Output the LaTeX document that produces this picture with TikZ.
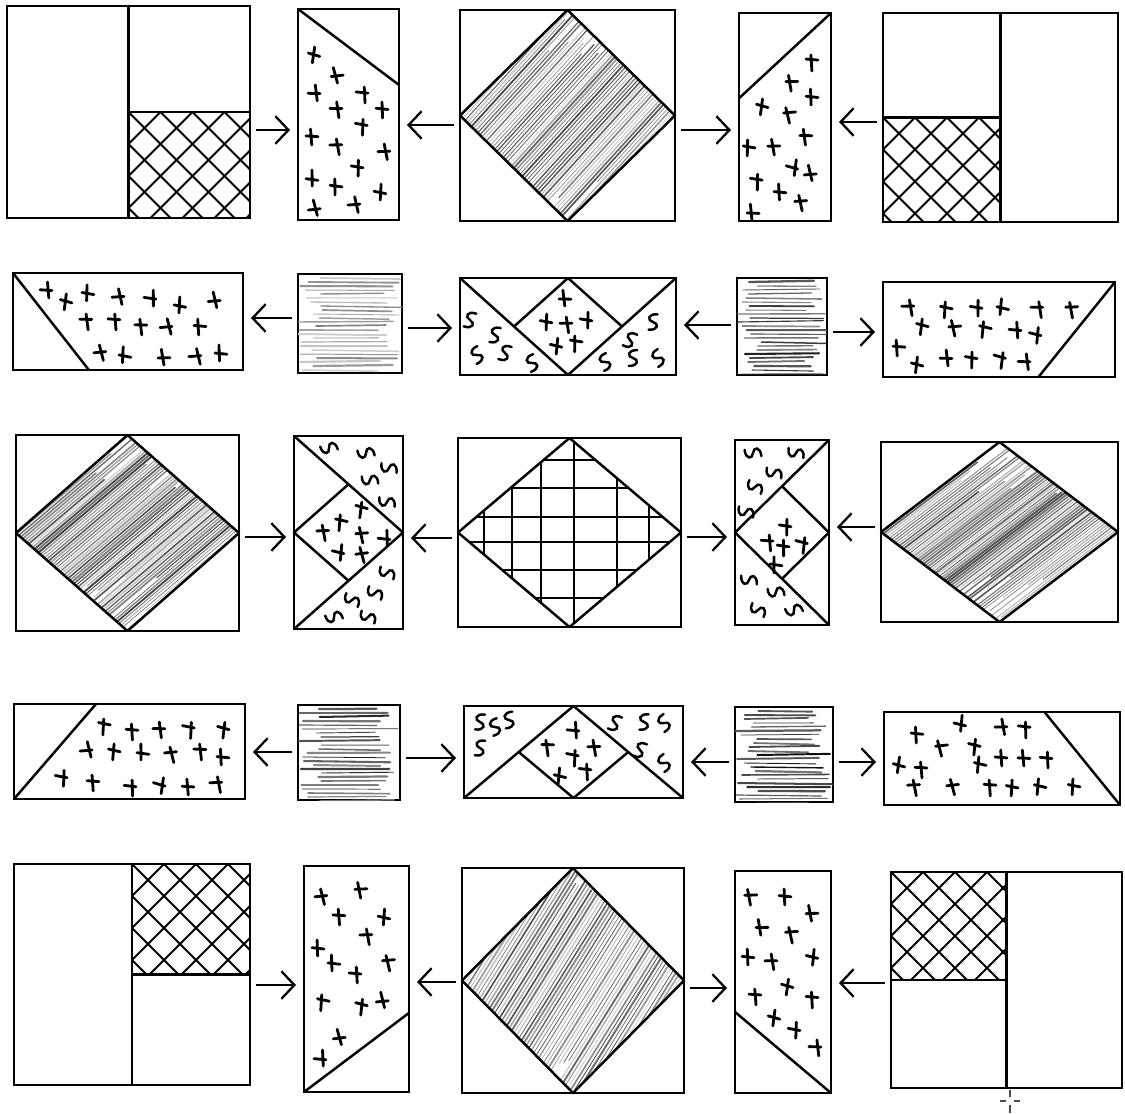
\documentclass[tikz,border=0pt]{standalone}
\usetikzlibrary{arrows.meta,calc,fit}
\newcommand\xhatch[2]{\begin{scope}\clip (#1) rectangle (#2);
 \foreach \kk in {-160,-128,...,320}{\draw[hatchline] ($(#1)+(\kk,0)$) -- ++(180,180); \draw[hatchline] ($(#1)+(\kk,0)$) -- ++(-180,180);}
\end{scope}}
\newcommand\dscrib[3]{\begin{scope}\clip (#1.north)--(#1.east)--(#1.south)--(#1.west)--cycle;
 \foreach \kk in {-250,-246,...,250}{
  \pgfmathsetmacro\gv{int(20+55*rnd)}
  \pgfmathsetmacro\wv{0.3+0.8*rnd}
  \pgfmathsetmacro\sa{50+130*rnd}
  \pgfmathsetmacro\sb{50+130*rnd}
  \draw[black!\gv, line width=\wv pt, line cap=round] ($(#1.center)+(\kk-\sa*#2,\sa*#3)$) -- ($(#1.center)+(\kk+\sb*#2,-\sb*#3)$);
 }\end{scope}}
\newcommand\hscrib[3]{\begin{scope}\clip (#1.north west) rectangle (#1.south east);
 \foreach \yy in {4,8,...,96}{
  \pgfmathsetmacro\gv{int(#2+#3*rnd)}
  \pgfmathsetmacro\wv{0.4+0.9*rnd}
  \pgfmathsetmacro\sa{25*rnd}
  \pgfmathsetmacro\sb{25*rnd}
  \draw[black!\gv, line width=\wv pt, line cap=round] ($(#1.north west)+(\sa,\yy)$) -- ($(#1.north east)+(-\sb,\yy+3*rnd-1.5)$);
 }\end{scope}}
\newcommand\crosses[1]{\foreach \x/\y in {#1}{\pgfmathsetmacro\rr{-12+24*rnd}\pgfmathsetmacro\hb{-4+5*rnd}\pgfmathsetmacro\vb{-3+6*rnd}\pic[rotate=\rr] at (\x,\y) {plus};}}
\newcommand\squigs[2]{\foreach \x/\y in {#2}{\pgfmathsetmacro\rr{#1-30+60*rnd}\pic[rotate=\rr] at (\x,\y) {squig};}}
\begin{document}
\begin{tikzpicture}[x=0.02cm,y=-0.02cm,
 blk/.style={draw, line width=1.5pt, inner sep=0pt, outer sep=0pt, rectangle},
 inl/.style={line width=1.4pt, line join=round},
 hatchline/.style={line width=1.1pt},
 crossline/.style={line width=1.6pt, line cap=round},
 squigline/.style={line width=1.4pt, line cap=round},
 arr/.style={line width=1.3pt, -{Straight Barb[length=0.26cm,width=0.55cm]}, shorten <=0.12cm, shorten >=0.16cm},
 plus/.pic={\draw[crossline] (-6,\hb) -- (6,\hb+1) (\vb,-8) -- (\vb+1,8);},
 squig/.pic={\draw[squigline] (4,-8) .. controls (-6,-8) and (-6,-1) .. (0,0) .. controls (6,1) and (6,8) .. (-4,8);}]
\pgfmathsetseed{4321}
\useasboundingbox (0,0) rectangle (1125,1113);
\fill[white] (0,0) rectangle (1125,1113);
% ---------- blocks ----------
\node[blk, fit={(7,6)(250,218)}] (A1) {};
\node[blk, fit={(298,9)(399,220)}] (A2) {};
\node[blk, fit={(460,10)(675,221)}] (A3) {};
\node[blk, fit={(739,13)(831,221)}] (A4) {};
\node[blk, fit={(883,13)(1118,222)}] (A5) {};
\node[blk, fit={(13,273)(243,370)}] (B1) {};
\node[blk, fit={(298,274)(402,373)}] (B2) {};
\node[blk, fit={(460,278)(676,375)}] (B3) {};
\node[blk, fit={(737,278)(827,375)}] (B4) {};
\node[blk, fit={(883,282)(1115,377)}] (B5) {};
\node[blk, fit={(16,435)(239,631)}] (C1) {};
\node[blk, fit={(294,436)(403,629)}] (C2) {};
\node[blk, fit={(458,438)(681,627)}] (C3) {};
\node[blk, fit={(735,440)(829,625)}] (C4) {};
\node[blk, fit={(881,442)(1118,622)}] (C5) {};
\node[blk, fit={(14,704)(245,799)}] (D1) {};
\node[blk, fit={(298,705)(400,800)}] (D2) {};
\node[blk, fit={(464,706)(683,798)}] (D3) {};
\node[blk, fit={(735,707)(833,802)}] (D4) {};
\node[blk, fit={(884,712)(1120,805)}] (D5) {};
\node[blk, fit={(14,864)(250,1085)}] (E1) {};
\node[blk, fit={(304,866)(409,1092)}] (E2) {};
\node[blk, fit={(462,868)(684,1093)}] (E3) {};
\node[blk, fit={(735,871)(831,1093)}] (E4) {};
\node[blk, fit={(891,872)(1122,1088)}] (E5) {};
% ---------- fills ----------
\xhatch{A1.center}{A1.south east}
\xhatch{A5.west}{A5.south}
\xhatch{E1.north}{E1.east}
\xhatch{E5.north west}{E5.center}
\dscrib{A3}{1}{1.1}
\dscrib{C1}{1}{0.85}
\dscrib{C5}{1}{0.76}
\dscrib{E3}{1}{1.6}
\hscrib{B2}{15}{35}
\hscrib{B4}{45}{45}
\hscrib{D2}{45}{45}
\hscrib{D4}{50}{45}
\begin{scope}
\clip (C3.north)--(C3.east)--(C3.south)--(C3.west)--cycle;
\foreach \gx in {484,512,541,574,617,649} \draw[inl] (\gx,438) -- (\gx,627);
\foreach \gy in {460,488,517,542,570,598} \draw[inl] (458,\gy) -- (681,\gy);
\end{scope}
% ---------- inner lines ----------
\draw[inl] (A1.north) -- (A1.south) (A1.center) -- (A1.east);
\draw[inl] (A2.north west) -- ($(A2.north east)!0.36!(A2.south east)$);
\draw[inl] (A3.north) -- (A3.east) -- (A3.south) -- (A3.west) -- cycle;
\draw[inl] ($(A4.north west)!0.41!(A4.south west)$) -- (A4.north east);
\draw[inl] (A5.north) -- (A5.south) (A5.west) -- (A5.center);
\draw[inl] (B1.north west) -- ($(B1.south west)!0.33!(B1.south east)$);
\draw[inl] (B3.north west) -- (B3.south) -- (B3.north east);
\draw[inl] ($(B3.north west)!0.5!(B3.south)$) -- (B3.north) -- ($(B3.north east)!0.5!(B3.south)$);
\draw[inl] ($(B5.south west)!0.67!(B5.south east)$) -- (B5.north east);
\draw[inl] (C1.north) -- (C1.east) -- (C1.south) -- (C1.west) -- cycle;
\draw[inl] (C2.north west) -- (C2.east) -- (C2.south west);
\draw[inl] ($(C2.north west)!0.5!(C2.east)$) -- (C2.west) -- ($(C2.south west)!0.5!(C2.east)$);
\draw[inl] (C3.north) -- (C3.east) -- (C3.south) -- (C3.west) -- cycle;
\draw[inl] (C4.north east) -- (C4.west) -- (C4.south east);
\draw[inl] ($(C4.north east)!0.5!(C4.west)$) -- (C4.east) -- ($(C4.south east)!0.5!(C4.west)$);
\draw[inl] (C5.north) -- (C5.east) -- (C5.south) -- (C5.west) -- cycle;
\draw[inl] (D1.south west) -- ($(D1.north west)!0.355!(D1.north east)$);
\draw[inl] (D3.south west) -- (D3.north) -- (D3.south east);
\draw[inl] ($(D3.south west)!0.5!(D3.north)$) -- (D3.south) -- ($(D3.south east)!0.5!(D3.north)$);
\draw[inl] ($(D5.north west)!0.68!(D5.north east)$) -- (D5.south east);
\draw[inl] (E1.north) -- (E1.south) (E1.center) -- (E1.east);
\draw[inl] (E2.south west) -- ($(E2.north east)!0.65!(E2.south east)$);
\draw[inl] (E3.north) -- (E3.east) -- (E3.south) -- (E3.west) -- cycle;
\draw[inl] ($(E4.north west)!0.635!(E4.south west)$) -- (E4.south east);
\draw[inl] (E5.north) -- (E5.south) (E5.west) -- (E5.center);
% ---------- crosses ----------
\crosses{314/55,337/75,314/93,362/95,336/110,382/110,361/127,312/137,336/147,384/152,357/168,312/178,336/187,380/192,314/208,354/205}
\crosses{812/63,792/83,812/97,762/107,790/115,806/137,749/148,774/147,792/167,810/173,756/182,780/192,801/203,753/212}
\crosses{46/290,66/302,88/293,118/297,150/298,180/305,214/300,86/322,114/322,141/327,166/327,200/327,100/353,125/355,164/357,195/357,221/353}
\crosses{565/298,546/322,566/325,586/320,556/346,576/344}
\crosses{908/308,946/310,976/308,1003/307,1037/310,1072/310,922/327,955/328,985/330,1015/330,1035/335,899/348,917/365,946/358,971/360,999/360,1024/362}
\crosses{323/533,341/523,361/510,362/535,384/538,338/552,362/555}
\crosses{785/527,767/543,783/548,801/545,776/565}
\crosses{104/727,132/732,159/730,188/730,223/730,86/750,114/752,143/752,171/755,200/752,223/757,61/778,93/783,130/788,159/785,188/787,216/785}
\crosses{573/730,548/748,594/748,572/758,560/776,585/772}
\crosses{917/735,960/723,1001/727,1024/730,942/748,974/747,899/765,921/770,980/765,1001/758,1024/758,1046/760,914/788,953/787,990/788,1012/788,1040/787,1074/787}
\crosses{321/897,361/890,339/917,384/917,366/937,318/948,334/963,355/975,389/963,323/1003,361/1007,382/1000,339/1037,320/1058}
\crosses{751/897,785/897,812/913,762/927,792/935,748/957,771/962,812/957,755/997,787/987,812/1000,774/1018,794/1030,815/1048}
% ---------- squiggles ----------
\squigs{0}{470/320,495/335,477/355,505/353,532/363,653/322,630/340,605/362,633/358,658/358}
\squigs{90}{329/448,366/453,370/480,389/468,387/502,387/573,375/593,352/600,334/617,368/617}
\squigs{90}{753/453,796/453,774/473,755/487,746/512,749/580,776/592,758/610,794/610}
\squigs{0}{480/722,495/727,509/720,480/748,615/723,644/722,664/723,640/750,664/763}
% ---------- arrows ----------
\draw[arr] (A1.east |- 0,130) -- (A2.west |- 0,130);
\draw[arr] (A3.west |- 0,125) -- (A2.east |- 0,125);
\draw[arr] (A3.east |- 0,130) -- (A4.west |- 0,130);
\draw[arr] (A5.west |- 0,122) -- (A4.east |- 0,122);
\draw[arr] (B2.west |- 0,318) -- (B1.east |- 0,318);
\draw[arr] (B2.east |- 0,328) -- (B3.west |- 0,328);
\draw[arr] (B4.west |- 0,325) -- (B3.east |- 0,325);
\draw[arr] (B4.east |- 0,332) -- (B5.west |- 0,332);
\draw[arr] (C1.east |- 0,537) -- (C2.west |- 0,537);
\draw[arr] (C3.west |- 0,538) -- (C2.east |- 0,538);
\draw[arr] (C3.east |- 0,537) -- (C4.west |- 0,537);
\draw[arr] (C5.west |- 0,527) -- (C4.east |- 0,527);
\draw[arr] (D2.west |- 0,752) -- (D1.east |- 0,752);
\draw[arr] (D2.east |- 0,758) -- (D3.west |- 0,758);
\draw[arr] (D4.west |- 0,762) -- (D3.east |- 0,762);
\draw[arr] (D4.east |- 0,762) -- (D5.west |- 0,762);
\draw[arr] (E1.east |- 0,985) -- (E2.west |- 0,985);
\draw[arr] (E3.west |- 0,982) -- (E2.east |- 0,982);
\draw[arr] (E3.east |- 0,988) -- (E4.west |- 0,988);
\draw[arr] (E5.west |- 0,983) -- (E4.east |- 0,983);
% ---------- cursor mark ----------
\draw[black!70, line width=0.6pt] (1000,1101) -- (1006,1101) (1014,1101) -- (1020,1101) (1010,1090) -- (1010,1097) (1010,1105) -- (1010,1113);
\end{tikzpicture}
\end{document}
